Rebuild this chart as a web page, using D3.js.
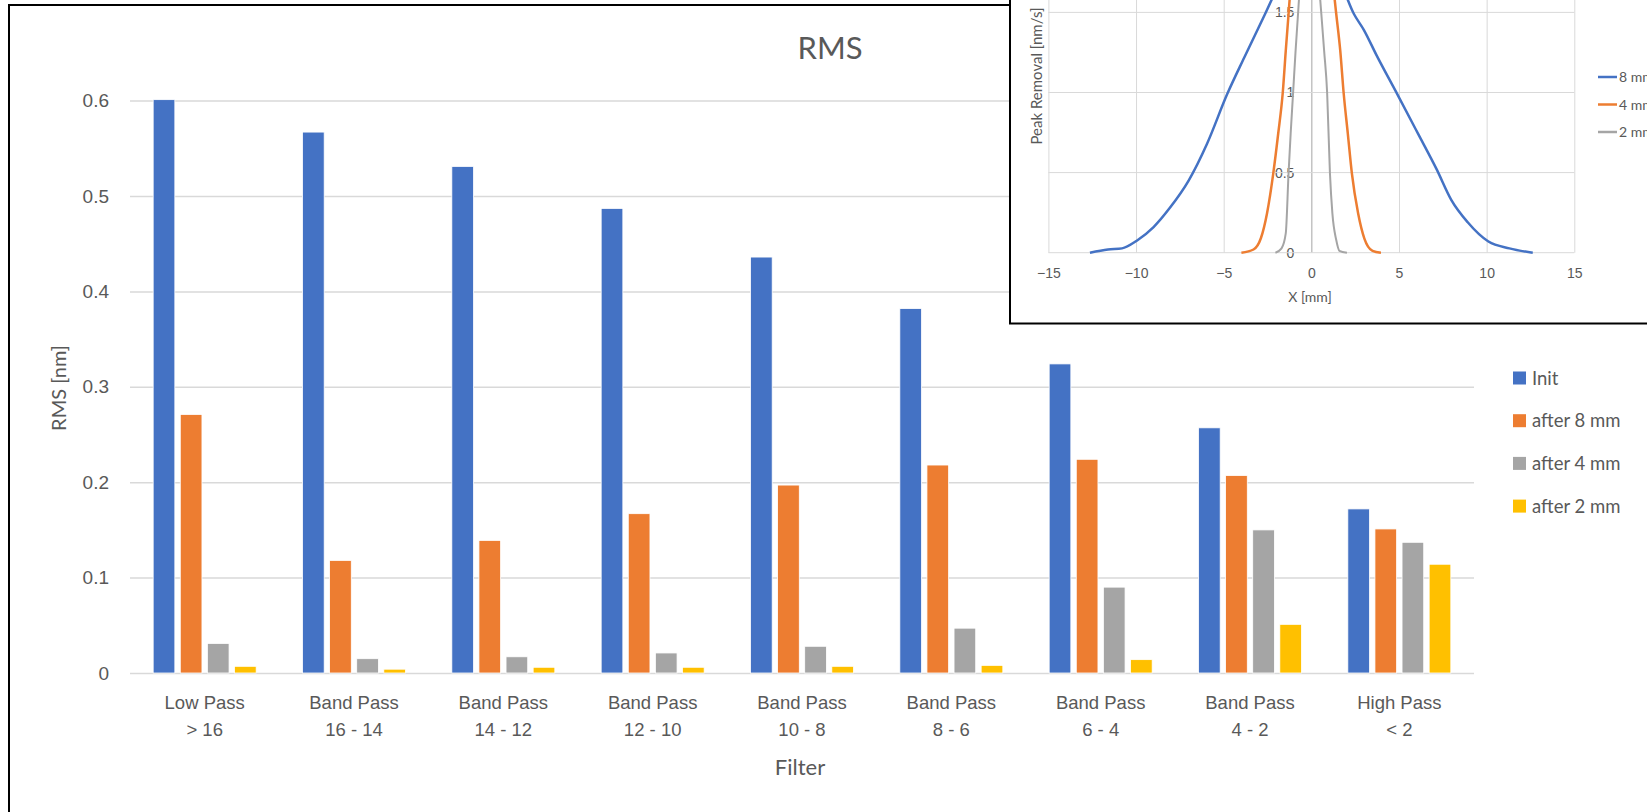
<!DOCTYPE html>
<html>
<head>
<meta charset="utf-8">
<script src="https://cdn.jsdelivr.net/npm/d3@7"></script>
<style>
  body { margin: 0; background: #fff; }
  svg { display: block; font-family: Lato, "Open Sans", sans-serif; }
</style>
</head>
<body>
<svg id="chart" width="1647" height="812"></svg>
<script>
// main bar chart data
const categories = [
  ['Low Pass', '> 16'], ['Band Pass', '16 - 14'], ['Band Pass', '14 - 12'],
  ['Band Pass', '12 - 10'], ['Band Pass', '10 - 8'], ['Band Pass', '8 - 6'],
  ['Band Pass', '6 - 4'], ['Band Pass', '4 - 2'], ['High Pass', '< 2']
];
const seriesNames = ['Init', 'after 8 mm', 'after 4 mm', 'after 2 mm'];
const seriesColors = ['#4472c4', '#ed7d31', '#a5a5a5', '#ffc000'];
const initVals = [0.601, 0.567, 0.531, 0.487, 0.436, 0.382, 0.324, 0.257, 0.172];
const after8Vals = [0.271, 0.118, 0.139, 0.167, 0.197, 0.218, 0.224, 0.207, 0.151];
const after4Vals = [0.031, 0.015, 0.017, 0.021, 0.028, 0.047, 0.090, 0.150, 0.137];
const after2Vals = [0.007, 0.004, 0.006, 0.006, 0.007, 0.008, 0.014, 0.051, 0.114];
const yTicks = [0, 0.1, 0.2, 0.3, 0.4, 0.5, 0.6];

// inset line chart data (peak removal profiles)
const insetNames = ['8 mm', '4 mm', '2 mm'];
const insetColors = ['#4472c4', '#ed7d31', '#a5a5a5'];
const blueX = [-12.63, -11.6, -10.8, -9.96, -9.0, -8.07, -7.0, -5.95, -4.8, -3.82, -2.64, -1.5, -0.5, 0.3, 1.3, 2.43, 3.0, 3.73, 4.9, 6.1, 7.15, 7.98, 8.92, 10.1, 11.3, 12.63];
const blueY = [0, 0.02, 0.027, 0.075, 0.16, 0.28, 0.45, 0.68, 0.99, 1.22, 1.49, 1.76, 1.98, 2.02, 1.8, 1.49, 1.39, 1.23, 0.99, 0.74, 0.52, 0.33, 0.19, 0.07, 0.027, 0];
const orangeX = [-3.99, -3.3, -2.88, -2.53, -2.17, -1.89, -1.63, -1.46, -1.3, -1.0, -0.3, 0.4, 1.05, 1.42, 1.65, 1.84, 2.08, 2.31, 2.67, 3.02, 3.49, 3.97];
const orangeY = [0, 0.02, 0.09, 0.245, 0.497, 0.744, 1.0, 1.26, 1.49, 1.9, 2.15, 2.15, 1.85, 1.49, 1.26, 1.0, 0.744, 0.497, 0.245, 0.09, 0.012, 0];
const grayX = [-2.05, -1.7, -1.46, -1.3, -1.18, -1.04, -0.9, -0.76, -0.5, -0.1, 0.25, 0.57, 0.73, 0.9, 1.06, 1.2, 1.42, 1.6, 2.03];
const grayY = [0, 0.027, 0.12, 0.497, 0.744, 1.0, 1.26, 1.49, 1.9, 2.1, 1.9, 1.49, 1.26, 1.0, 0.497, 0.245, 0.079, 0.012, 0];
const insetXTicks = [-15, -10, -5, 0, 5, 10, 15];
const insetYTicks = [0, 0.5, 1, 1.5, 2];

const svg = d3.select('#chart');
const textColor = '#595959';
const gridColor = '#d9d9d9';

// ---------- main chart ----------
const x0 = d3.scaleBand().domain(d3.range(categories.length)).range([130, 1474]);
const bw = x0.bandwidth();
const x1 = d3.scaleBand().domain(seriesNames).range([bw / 2 - 51.5, bw / 2 + 51.5]).paddingInner(0.2);
const y = d3.scaleLinear().domain([0, 0.6]).range([673, 100.6]);

svg.append('g')
  .attr('transform', 'translate(130,0)')
  .call(d3.axisLeft(y).tickValues(yTicks).tickSize(-1344).tickFormat(d => d === 0 ? '0' : d3.format('.1f')(d)))
  .call(g => g.select('.domain').remove())
  .call(g => g.selectAll('line').attr('stroke', gridColor).attr('stroke-width', 1.5))
  .call(g => g.selectAll('text').attr('x', -21).attr('fill', textColor).style('font-size', '19px'));

const seriesVals = [initVals, after8Vals, after4Vals, after2Vals];
seriesNames.forEach((name, si) => {
  svg.append('g')
    .selectAll('rect')
    .data(seriesVals[si])
    .enter().append('rect')
      .attr('x', (d, i) => x0(i) + x1(name))
      .attr('y', d => y(d))
      .attr('width', x1.bandwidth())
      .attr('height', d => y(0) - y(d))
      .attr('fill', seriesColors[si])
      .attr('stroke', '#fff')
      .attr('stroke-width', 0.8);
});

// category labels, two lines each
const xAx = svg.append('g')
  .attr('transform', 'translate(0,673)')
  .call(d3.axisBottom(x0).tickSize(0).tickFormat(''));
xAx.select('.domain').remove();
xAx.selectAll('.tick').append('text')
  .attr('fill', textColor)
  .attr('text-anchor', 'middle')
  .style('font-size', '18.5px')
  .selectAll('tspan')
  .data(i => categories[i])
  .enter().append('tspan')
    .attr('x', 0)
    .attr('y', (d, k) => 36 + k * 27)
    .text(d => d);

svg.append('text')
  .attr('x', 830).attr('y', 59)
  .attr('text-anchor', 'middle')
  .attr('fill', textColor)
  .style('font-size', '31px')
  .text('RMS');

svg.append('text')
  .attr('transform', 'translate(66,388) rotate(-90)')
  .attr('text-anchor', 'middle')
  .attr('fill', textColor)
  .style('font-size', '20px')
  .text('RMS [nm]');

svg.append('text')
  .attr('x', 800).attr('y', 775)
  .attr('text-anchor', 'middle')
  .attr('fill', textColor)
  .style('font-size', '22px')
  .text('Filter');

const legend = svg.append('g');
seriesNames.forEach((name, i) => {
  const ly = 378 + i * 42.7;
  legend.append('rect')
    .attr('x', 1513).attr('y', ly - 6.5).attr('width', 13).attr('height', 13)
    .attr('fill', seriesColors[i]);
  legend.append('text')
    .attr('x', 1532).attr('y', ly + 6.5)
    .attr('fill', textColor)
    .style('font-size', '18.5px')
    .text(name);
});

// main chart frame (left and top edges visible)
svg.append('path')
  .attr('d', 'M9,812 V5 H1100')
  .attr('fill', 'none')
  .attr('stroke', '#000')
  .attr('stroke-width', 2);

// ---------- inset chart ----------
const inset = svg.append('g');
inset.append('rect')
  .attr('x', 1010).attr('y', -20).attr('width', 700).attr('height', 343.5)
  .attr('fill', '#fff')
  .attr('stroke', '#000')
  .attr('stroke-width', 2);

const ix = d3.scaleLinear().domain([-15, 15]).range([1048.4, 1574.3]);
const iy = d3.scaleLinear().domain([0, 2]).range([252.7, -67.7]);

inset.append('g')
  .attr('transform', 'translate(0,252.7)')
  .call(d3.axisBottom(ix).tickValues(insetXTicks).tickSize(-320.4).tickFormat(d3.format('d')))
  .call(g => g.select('.domain').remove())
  .call(g => g.selectAll('line').attr('stroke', d => d === 0 ? '#a6a6a6' : gridColor))
  .call(g => g.selectAll('text').attr('y', 15).attr('fill', textColor).style('font-size', '14px'));

inset.append('g')
  .attr('transform', `translate(${ix(0)},0)`)
  .call(d3.axisLeft(iy).tickValues(insetYTicks).tickSize(0).tickFormat(d => d))
  .call(g => g.select('.domain').remove())
  .call(g => g.selectAll('text').attr('x', -17).attr('fill', textColor).style('font-size', '14px'));

inset.append('g')
  .selectAll('line')
  .data(insetYTicks)
  .enter().append('line')
    .attr('x1', ix(-15)).attr('x2', ix(15))
    .attr('y1', d => iy(d)).attr('y2', d => iy(d))
    .attr('stroke', gridColor);

const insetX = [blueX, orangeX, grayX];
const insetY = [blueY, orangeY, grayY];
const line = d3.line()
  .x(d => ix(d[0]))
  .y(d => iy(d[1]))
  .curve(d3.curveMonotoneX);
insetNames.forEach((name, i) => {
  inset.append('path')
    .datum(d3.zip(insetX[i], insetY[i]))
    .attr('d', line)
    .attr('fill', 'none')
    .attr('stroke', insetColors[i])
    .attr('stroke-width', i === 2 ? 2 : 2.5);
});

inset.append('text')
  .attr('x', 1310).attr('y', 302)
  .attr('text-anchor', 'middle')
  .attr('fill', textColor)
  .style('font-size', '14px')
  .text('X [mm]');

inset.append('text')
  .attr('transform', 'translate(1042,76) rotate(-90)')
  .attr('text-anchor', 'middle')
  .attr('fill', textColor)
  .style('font-size', '15px')
  .text('Peak Removal [nm/s]');

insetNames.forEach((name, i) => {
  const ly = 77 + i * 27.5;
  inset.append('line')
    .attr('x1', 1598).attr('x2', 1617)
    .attr('y1', ly).attr('y2', ly)
    .attr('stroke', insetColors[i])
    .attr('stroke-width', 2.5);
  inset.append('text')
    .attr('x', 1619).attr('y', ly + 5)
    .attr('fill', textColor)
    .style('font-size', '14px')
    .text(name);
});
</script>
</body>
</html>
